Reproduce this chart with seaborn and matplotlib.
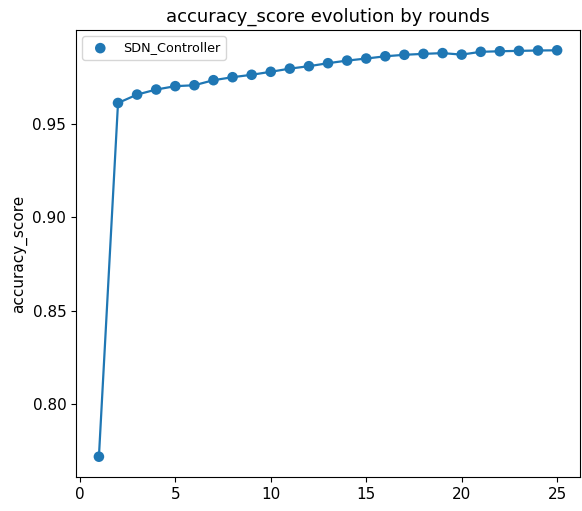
import matplotlib
matplotlib.use("Agg")
import matplotlib.pyplot as plt
import seaborn as sns
import pandas as pd

rounds = list(range(1, 26))
accuracy_score = [
    0.7719, 0.9613, 0.9658, 0.9685, 0.9703, 0.9708, 0.9735, 0.9751, 0.9764,
    0.9780, 0.9797, 0.9810, 0.9826, 0.9840, 0.9851, 0.9863, 0.9871, 0.9876,
    0.9880, 0.9872, 0.9887, 0.9890, 0.9892, 0.9894, 0.9895,
]
client = "SDN_Controller"

df = pd.DataFrame({"round": rounds, "accuracy_score": accuracy_score})

fig, ax = plt.subplots(figsize=(5.82, 5.11), dpi=100)
fig.subplots_adjust(left=0.1306, right=0.9966, top=0.9413, bottom=0.0665)

color = "#1f77b4"
sns.lineplot(data=df, x="round", y="accuracy_score", ax=ax, color=color,
             linewidth=1.6, legend=False)
sns.scatterplot(data=df, x="round", y="accuracy_score", ax=ax, color=color,
                s=58, edgecolor="none", label=client, zorder=3)

ax.set_title("accuracy_score evolution by rounds", fontsize=13)
ax.set_xlabel("")
ax.set_ylabel("accuracy_score", fontsize=11)
ax.tick_params(labelsize=11)
ax.set_xticks([0, 5, 10, 15, 20, 25])
ax.set_yticks([0.80, 0.85, 0.90, 0.95])
ax.legend(loc="upper left", fontsize=9.2)

fig.savefig("out.png", dpi=100)
